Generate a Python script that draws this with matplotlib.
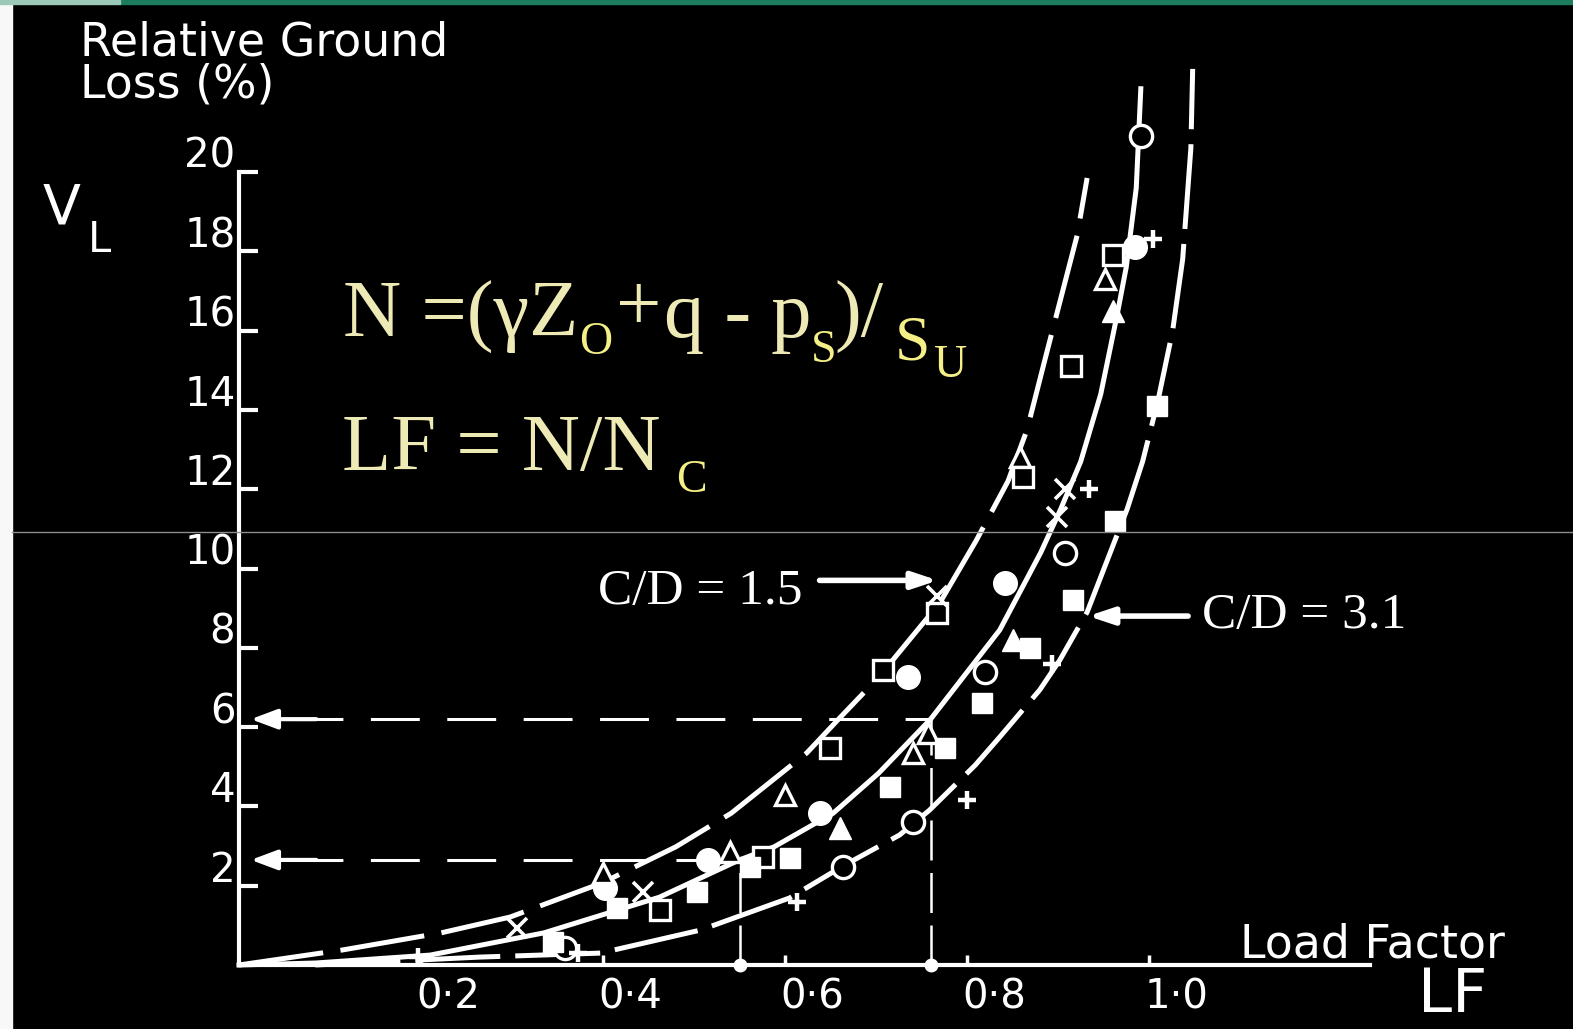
import matplotlib.pyplot as plt
from matplotlib.patches import Rectangle
from matplotlib.lines import Line2D

# load factor LF vs relative ground loss V_L (%), three trend curves
lf_cd15 = [0.0, 0.114, 0.222, 0.298, 0.399, 0.480, 0.541, 0.624, 0.658, 0.703,
           0.770, 0.810, 0.845, 0.866, 0.886, 0.921, 0.932]
v_cd15 = [0.0, 0.38, 0.81, 1.21, 2.07, 2.98, 3.83, 5.35, 6.18, 7.26,
          9.13, 10.7, 12.2, 13.5, 15.3, 18.4, 19.85]

lf_mid = [0.0, 0.084, 0.21, 0.335, 0.462, 0.55, 0.588, 0.653, 0.703, 0.76,
          0.836, 0.881, 0.903, 0.925, 0.947, 0.965, 0.975, 0.986, 0.991]
v_mid = [0.0, 0.05, 0.25, 0.81, 1.71, 2.65, 2.98, 3.83, 4.84, 6.2,
         8.45, 10.4, 11.5, 12.7, 14.4, 16.4, 17.6, 19.6, 22.1]

lf_cd31 = [0.084, 0.265, 0.397, 0.507, 0.605, 0.664, 0.726, 0.759, 0.809, 0.836,
           0.880, 0.902, 0.932, 0.954, 0.976, 0.993, 1.010, 1.026, 1.037, 1.046, 1.048]
v_cd31 = [0.0, 0.2, 0.30, 0.88, 1.69, 2.5, 3.28, 3.91, 5.04, 5.75,
          6.94, 7.69, 8.9, 10.2, 11.5, 12.7, 14.25, 16.0, 17.8, 20.6, 22.6]

# read-off construction: LF -> V_L on the middle curve
lf_read = [0.55, 0.76]
v_read = [2.65, 6.2]

# test points by symbol
open_circle_lf = [0.991, 0.908, 0.820, 0.741, 0.664, 0.358]
open_circle_v = [20.9, 10.4, 7.4, 3.6, 2.47, 0.43]
filled_circle_lf = [0.985, 0.842, 0.735, 0.638, 0.515, 0.402]
filled_circle_v = [18.1, 9.63, 7.27, 3.83, 2.65, 1.94]
open_tri_lf = [0.952, 0.858, 0.757, 0.741, 0.600, 0.54, 0.40]
open_tri_v = [17.3, 12.8, 5.85, 5.35, 4.29, 2.85, 2.32]
filled_tri_lf = [0.960, 0.851, 0.660]
filled_tri_v = [16.5, 8.2, 3.45]
open_sq_lf = [0.960, 0.914, 0.862, 0.767, 0.708, 0.649, 0.576, 0.463]
open_sq_v = [17.9, 15.1, 12.3, 8.88, 7.44, 5.47, 2.72, 1.39]
filled_sq_lf = [1.009, 0.963, 0.917, 0.869, 0.817, 0.776, 0.715, 0.605, 0.562, 0.503, 0.415, 0.345]
filled_sq_v = [14.1, 11.2, 9.2, 8.0, 6.6, 5.47, 4.49, 2.7, 2.47, 1.84, 1.44, 0.58]
cross_lf = [0.908, 0.899, 0.767, 0.444, 0.305]
cross_v = [12.0, 11.3, 9.3, 1.84, 0.93]
plus_lf = [1.004, 0.934, 0.893, 0.80, 0.613, 0.373, 0.197]
plus_v = [18.3, 12.0, 7.6, 4.16, 1.59, 0.3, 0.2]

v_ticks = [2, 4, 6, 8, 10, 12, 14, 16, 18, 20]
lf_ticks = [0.2, 0.4, 0.6, 0.8, 1.0]
lf_labels = ['0·2', '0·4', '0·6', '0·8', '1·0']

W, H = 1573, 1029
X0, SX = 239, 910      # pixel of LF = 0, pixels per unit LF
Y0, SY = 965, 39.65    # pixel of V = 0, pixels per % ground loss

fig = plt.figure(figsize=(W / 100, H / 100), dpi=100, facecolor='black')
ax = fig.add_axes([0, 0, 1, 1])
ax.set_facecolor('none')
ax.set_xlim(-X0 / SX, (W - X0) / SX)
ax.set_ylim(-(H - Y0) / SY, Y0 / SY)


def fpos(x, y):
    """pixel position -> figure fraction"""
    return x / W, 1 - y / H


# slide frame: white strip on the left, teal band on top, thin grey rule
fig.patches.append(Rectangle((0, 0), 12 / W, 1, transform=fig.transFigure,
                             color='#f8f8f8', zorder=0))
fig.patches.append(Rectangle(fpos(120, 4), 1, 4 / H, transform=fig.transFigure,
                             color='#1b7d5e', zorder=0))
fig.patches.append(Rectangle(fpos(0, 4), 120 / W, 4 / H, transform=fig.transFigure,
                             color='#9cc9b7', zorder=0))
fig.add_artist(Line2D([12 / W, 1], [1 - 532 / H] * 2, color='#8c8c8c', lw=1.0))

# axes
for side in ['top', 'right']:
    ax.spines[side].set_visible(False)
ax.spines['left'].set_position(('data', 0))
ax.spines['bottom'].set_position(('data', 0))
ax.spines['left'].set_bounds(0, 20)
ax.spines['bottom'].set_bounds(0, 1.243)
for side in ['left', 'bottom']:
    ax.spines[side].set_color('white')
    ax.spines[side].set_linewidth(3)
ax.set_xticks(lf_ticks)
ax.set_yticks(v_ticks)
ax.tick_params(axis='y', direction='in', length=14, width=3, color='white', labelleft=False)
ax.tick_params(axis='x', direction='in', length=7, width=2.5, color='white', labelbottom=False)

tick_font = dict(color='white', fontsize=29, family='DejaVu Sans')
for v in v_ticks:
    ax.text(-0.004, v + 0.38, str(v), ha='right', va='center', **tick_font)
for lf, lab in zip(lf_ticks, lf_labels):
    ax.text(lf + 0.03, -0.81, lab, ha='center', va='center', **tick_font)

# curves
ax.plot(lf_cd15, v_cd15, color='white', lw=3.6, ls=(0, (17, 3.5)), zorder=3)
ax.plot(lf_mid, v_mid, color='white', lw=3.6, zorder=3)
ax.plot(lf_cd31, v_cd31, color='white', lw=3.6, ls=(0, (17, 3)), zorder=3)

# read-off lines with arrows onto the V_L axis
for lf, v in zip(lf_read, v_read):
    ax.plot([0.06, lf], [v, v], color='white', lw=2.2, ls=(0, (16, 9)), zorder=2)
    ax.plot([lf, lf], [0, v], color='white', lw=1.8, ls=(0, (16, 5)), zorder=2)
    ax.annotate('', xy=(0.013, v), xytext=(0.085, v),
                arrowprops=dict(arrowstyle='-|>,head_length=1.6,head_width=0.6',
                                color='white', lw=3, shrinkA=0, shrinkB=0), zorder=4)
ax.plot(lf_read, [0, 0], 'o', color='white', ms=9, zorder=4)

# test points
mk = dict(ls='none', zorder=5)
ax.plot(open_circle_lf, open_circle_v, 'o', ms=16, mfc='black', mec='white', mew=2.4, **mk)
ax.plot(filled_circle_lf, filled_circle_v, 'o', ms=17, color='white', **mk)
ax.plot(open_tri_lf, open_tri_v, '^', ms=15, mfc='black', mec='white', mew=2.4, **mk)
ax.plot(filled_tri_lf, filled_tri_v, '^', ms=16, color='white', **mk)
ax.plot(open_sq_lf, open_sq_v, 's', ms=14, mfc='black', mec='white', mew=2.4, **mk)
ax.plot(filled_sq_lf, filled_sq_v, 's', ms=15, color='white', **mk)
ax.plot(cross_lf, cross_v, 'x', ms=14, color='white', mew=2.6, **mk)
ax.plot(plus_lf, plus_v, '+', ms=13, color='white', mew=3.2, **mk)

# curve labels
serif = 'Liberation Serif'
ax.text(0.395, 9.1, 'C/D = 1.5', color='white', fontsize=37, family=serif,
        ha='left', va='baseline')
ax.annotate('', xy=(0.768, 9.7), xytext=(0.638, 9.7),
            arrowprops=dict(arrowstyle='-|>,head_length=1.5,head_width=0.5',
                            color='white', lw=4, shrinkA=0, shrinkB=0))
ax.text(1.058, 8.5, 'C/D = 3.1', color='white', fontsize=37, family=serif,
        ha='left', va='baseline')
ax.annotate('', xy=(0.933, 8.8), xytext=(1.043, 8.8),
            arrowprops=dict(arrowstyle='-|>,head_length=1.5,head_width=0.5',
                            color='white', lw=4, shrinkA=0, shrinkB=0))

# axis titles
sans = dict(color='white', family='DejaVu Sans', ha='left', va='baseline')
fig.text(*fpos(80, 55), 'Relative Ground', fontsize=33, **sans)
fig.text(*fpos(80, 98), 'Loss (%)', fontsize=33, **sans)
fig.text(*fpos(43, 223), 'V', fontsize=40, **sans)
fig.text(*fpos(88, 252), 'L', fontsize=30, **sans)
fig.text(*fpos(1240, 958), 'Load Factor', fontsize=33, **sans)
fig.text(*fpos(1418, 1012), 'LF', fontsize=44, **sans)

# definitions
main_col, sub_col = '#eeeab6', '#f4ef86'
eq = dict(family=serif, ha='left', va='baseline')
fig.text(*fpos(343, 337), 'N =(γZ', fontsize=58, color=main_col, **eq)
fig.text(*fpos(579, 354), 'O', fontsize=33, color=sub_col, **eq)
fig.text(*fpos(616, 330), '+', fontsize=58, color=main_col, **eq)
fig.text(*fpos(664, 337), 'q - p', fontsize=58, color=main_col, **eq)
fig.text(*fpos(811, 362), 'S', fontsize=33, color=sub_col, **eq)
fig.text(*fpos(834, 337), ')/', fontsize=58, color=main_col, **eq)
fig.text(*fpos(895, 360), 'S', fontsize=46, color=sub_col, **eq)
fig.text(*fpos(934, 377), 'U', fontsize=33, color=sub_col, **eq)
fig.text(*fpos(342, 470), 'LF = N/N', fontsize=58, color=main_col, **eq)
fig.text(*fpos(676, 492), 'C', fontsize=33, color=sub_col, **eq)

fig.savefig('out.png', dpi=100, facecolor='black')
